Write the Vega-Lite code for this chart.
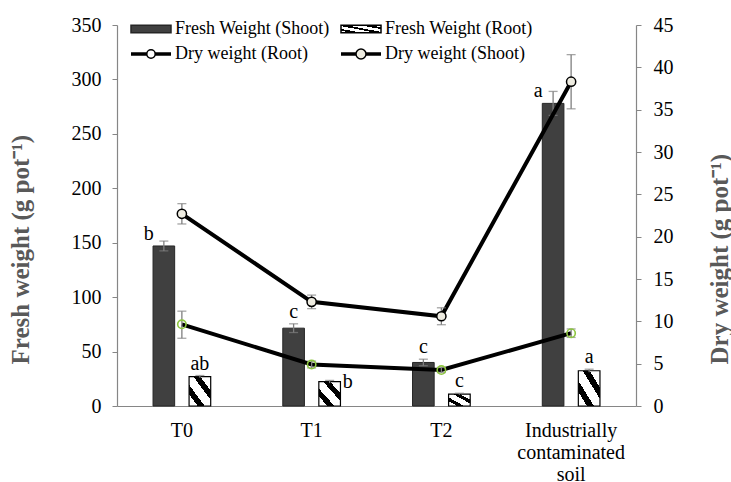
{
  "$schema": "https://vega.github.io/schema/vega-lite/v6.json",
  "width": 519,
  "height": 381,
  "autosize": "none",
  "padding": {"left": 117, "top": 25, "right": 95, "bottom": 76},
  "config": {
    "font": "Liberation Serif",
    "view": {"stroke": null},
    "text": {"font": "Liberation Serif"},
    "axis": {
      "labelFont": "Liberation Serif",
      "labelFontSize": 20,
      "labelColor": "black",
      "domainColor": "#868686",
      "domainWidth": 1.2,
      "tickColor": "#868686",
      "grid": false,
      "titleFont": "Liberation Serif",
      "titleFontSize": 25,
      "titleColor": "#595959",
      "titleFontWeight": "bold"
    },
    "legend": {
      "labelFont": "Liberation Serif",
      "labelFontSize": 18,
      "labelColor": "black"
    }
  },
  "data": {
    "values": [
      {"cat": "T0", "fs": 147, "fs_lo": 142.5, "fs_hi": 151.5, "fr": 27, "fr_lo": 26, "fr_hi": 28, "ds": 22.7, "ds_lo": 21.5, "ds_hi": 23.9, "dr": 9.65, "dr_lo": 8.0, "dr_hi": 11.2, "fs_let": "b", "fr_let": "ab"},
      {"cat": "T1", "fs": 71.5, "fs_lo": 67.5, "fs_hi": 75.5, "fr": 22.3, "fr_lo": 21, "fr_hi": 23.5, "ds": 12.3, "ds_lo": 11.5, "ds_hi": 13.1, "dr": 4.9, "dr_lo": 4.5, "dr_hi": 5.3, "fs_let": "c", "fr_let": "b"},
      {"cat": "T2", "fs": 40, "fs_lo": 37, "fs_hi": 43, "fr": 11, "fr_lo": 10.3, "fr_hi": 11.7, "ds": 10.6, "ds_lo": 9.6, "ds_hi": 11.6, "dr": 4.25, "dr_lo": 3.95, "dr_hi": 4.55, "fs_let": "c", "fr_let": "c"},
      {"cat": "Industrially contaminated soil", "fs": 278, "fs_lo": 267, "fs_hi": 289, "fr": 32.4, "fr_lo": 31, "fr_hi": 33.8, "ds": 38.3, "ds_lo": 35.1, "ds_hi": 41.5, "dr": 8.6, "dr_lo": 8.1, "dr_hi": 9.1, "fs_let": "a", "fr_let": "a"}
    ]
  },
  "encoding": {
    "x": {
      "field": "cat",
      "type": "nominal",
      "sort": ["T0", "T1", "T2", "Industrially contaminated soil"],
      "scale": {"paddingInner": 0, "paddingOuter": 0},
      "axis": {
        "title": null,
        "ticks": false,
        "labelAngle": 0,
        "labelFont": "Liberation Serif",
        "labelFontSize": 20,
        "labelPadding": 14,
        "labelLineHeight": 22,
        "labelBaseline": "top",
        "labelLimit": 300,
        "labelOverlap": false,
        "labelExpr": "datum.value == 'Industrially contaminated soil' ? ['Industrially', 'contaminated', 'soil'] : datum.value"
      }
    }
  },
  "layer": [
    {
      "layer": [
        {
          "mark": {"type": "bar", "fill": "#404040", "stroke": "#262626", "strokeWidth": 1},
          "encoding": {
            "xOffset": {"datum": "Shoot", "type": "nominal", "scale": {"domain": ["Shoot", "Root"], "paddingInner": 0.4, "paddingOuter": 1.3625}},
            "y": {
              "field": "fs",
              "type": "quantitative",
              "scale": {"domain": [0, 350], "nice": false},
              "title": "Fresh weight (g pot⁻¹)",
              "axis": {
                "title": "Fresh weight (g pot⁻¹)",
                "values": [0, 50, 100, 150, 200, 250, 300, 350],
                "tickSize": 5,
                "labelFont": "Liberation Serif",
                "labelPadding": 11,
                "titlePadding": 38,
                "titleAlign": "left",
                "titleY": 339
              }
            }
          }
        },
        {
          "mark": {
            "type": "bar",
            "stroke": "black",
            "strokeWidth": 1.2,
            "fill": {
              "gradient": "linear", "x1": 0, "y1": 1, "x2": 1, "y2": 0,
              "stops": [
                {"offset": 0, "color": "white"},
                {"offset": 0.2, "color": "white"},
                {"offset": 0.2, "color": "black"},
                {"offset": 0.36, "color": "black"},
                {"offset": 0.36, "color": "white"},
                {"offset": 0.6, "color": "white"},
                {"offset": 0.6, "color": "black"},
                {"offset": 0.76, "color": "black"},
                {"offset": 0.76, "color": "white"},
                {"offset": 1, "color": "white"}
              ]
            }
          },
          "encoding": {
            "xOffset": {"datum": "Root", "type": "nominal"},
            "y": {"field": "fr", "type": "quantitative", "title": "Fresh weight (g pot⁻¹)"}
          }
        },
        {
          "mark": {"type": "rule", "color": "#7f7f7f", "strokeWidth": 1.3},
          "encoding": {
            "xOffset": {"datum": "Shoot", "type": "nominal"},
            "y": {"field": "fs_lo", "type": "quantitative", "title": "Fresh weight (g pot⁻¹)"},
            "y2": {"field": "fs_hi"}
          }
        },
        {
          "mark": {"type": "tick", "color": "#7f7f7f", "size": 9, "thickness": 1.3, "orient": "horizontal"},
          "encoding": {
            "xOffset": {"datum": "Shoot", "type": "nominal"},
            "y": {"field": "fs_hi", "type": "quantitative", "title": "Fresh weight (g pot⁻¹)"}
          }
        },
        {
          "mark": {"type": "tick", "color": "#7f7f7f", "size": 9, "thickness": 1.3, "orient": "horizontal"},
          "encoding": {
            "xOffset": {"datum": "Shoot", "type": "nominal"},
            "y": {"field": "fs_lo", "type": "quantitative", "title": "Fresh weight (g pot⁻¹)"}
          }
        },
        {
          "mark": {"type": "rule", "color": "#7f7f7f", "strokeWidth": 1.3},
          "encoding": {
            "xOffset": {"datum": "Root", "type": "nominal"},
            "y": {"field": "fr_lo", "type": "quantitative", "title": "Fresh weight (g pot⁻¹)"},
            "y2": {"field": "fr_hi"}
          }
        },
        {
          "mark": {"type": "tick", "color": "#7f7f7f", "size": 9, "thickness": 1.3, "orient": "horizontal"},
          "encoding": {
            "xOffset": {"datum": "Root", "type": "nominal"},
            "y": {"field": "fr_hi", "type": "quantitative", "title": "Fresh weight (g pot⁻¹)"}
          }
        },
        {
          "transform": [{"filter": "datum.cat == 'T1' || datum.cat == 'T2'"}],
          "mark": {"type": "text", "font": "Liberation Serif", "fontSize": 20, "baseline": "bottom", "dy": -2, "color": "black"},
          "encoding": {
            "xOffset": {"datum": "Shoot", "type": "nominal"},
            "y": {"field": "fs_hi", "type": "quantitative", "title": "Fresh weight (g pot⁻¹)"},
            "text": {"field": "fs_let"}
          }
        },
        {
          "transform": [{"filter": "datum.cat == 'T0' || datum.cat == 'Industrially contaminated soil'"}],
          "mark": {"type": "text", "font": "Liberation Serif", "fontSize": 20, "baseline": "bottom", "dy": -2, "dx": -15, "color": "black"},
          "encoding": {
            "xOffset": {"datum": "Shoot", "type": "nominal"},
            "y": {"field": "fs", "type": "quantitative", "title": "Fresh weight (g pot⁻¹)"},
            "text": {"field": "fs_let"}
          }
        },
        {
          "transform": [{"filter": "datum.cat != 'T1'"}],
          "mark": {"type": "text", "font": "Liberation Serif", "fontSize": 20, "baseline": "bottom", "dy": -2, "color": "black"},
          "encoding": {
            "xOffset": {"datum": "Root", "type": "nominal"},
            "y": {"field": "fr_hi", "type": "quantitative", "title": "Fresh weight (g pot⁻¹)"},
            "text": {"field": "fr_let"}
          }
        },
        {
          "transform": [{"filter": "datum.cat == 'T1'"}],
          "mark": {"type": "text", "font": "Liberation Serif", "fontSize": 20, "baseline": "middle", "dx": 18, "color": "black"},
          "encoding": {
            "xOffset": {"datum": "Root", "type": "nominal"},
            "y": {"field": "fr", "type": "quantitative", "title": "Fresh weight (g pot⁻¹)"},
            "text": {"field": "fr_let"}
          }
        },
        {
          "data": {"values": [{"series": "Fresh Weight (Shoot)"}]},
          "transform": [{"filter": "false"}],
          "mark": {"type": "point", "filled": false, "opacity": 1},
          "encoding": {
            "x": {"value": 0},
            "y": {"value": 0},
            "fill": {
              "field": "series",
              "type": "nominal",
              "scale": {
                "domain": ["Fresh Weight (Shoot)", "Fresh Weight (Root)", "Dry weight (Root)", "Dry weight (Shoot)"],
                "range": [
                  "#404040",
                  {"expr": "{gradient: 'linear', x1: 0, y1: 1, x2: 1, y2: 0, stops: [{offset: 0, color: 'white'}, {offset: 0.14, color: 'white'}, {offset: 0.14, color: 'black'}, {offset: 0.26, color: 'black'}, {offset: 0.26, color: 'white'}, {offset: 0.44, color: 'white'}, {offset: 0.44, color: 'black'}, {offset: 0.56, color: 'black'}, {offset: 0.56, color: 'white'}, {offset: 0.74, color: 'white'}, {offset: 0.74, color: 'black'}, {offset: 0.86, color: 'black'}, {offset: 0.86, color: 'white'}, {offset: 1, color: 'white'}]}"},
                  "transparent",
                  "#eeece1"
                ]
              },
              "legend": {
                "title": null,
                "orient": "none",
                "legendX": 23,
                "legendY": -7,
                "direction": "horizontal",
                "columns": 2,
                "columnPadding": 8,
                "rowPadding": 5,
                "symbolSize": 400,
                "symbolStrokeWidth": 1.5,
                "labelOffset": 13,
                "symbolOpacity": 1
              }
            },
            "shape": {
              "field": "series",
              "type": "nominal",
              "scale": {
                "domain": ["Fresh Weight (Shoot)", "Fresh Weight (Root)", "Dry weight (Root)", "Dry weight (Shoot)"],
                "range": [
                  "M-2,-0.38H2V0.38H-2Z",
                  "M-2,-0.38H2V0.38H-2Z",
                  "M-2,-0.1H-0.42M-2,0H-0.42M-2,0.1H-0.42M0.42,-0.1H2M0.42,0H2M0.42,0.1H2M0.42,0A0.42,0.42,0,1,1,-0.42,0A0.42,0.42,0,1,1,0.42,0",
                  "M-2,-0.1H-0.5M-2,0H-0.5M-2,0.1H-0.5M0.5,-0.1H2M0.5,0H2M0.5,0.1H2M0.5,0A0.5,0.5,0,1,1,-0.5,0A0.5,0.5,0,1,1,0.5,0"
                ]
              }
            },
            "stroke": {
              "field": "series",
              "type": "nominal",
              "scale": {
                "domain": ["Fresh Weight (Shoot)", "Fresh Weight (Root)", "Dry weight (Root)", "Dry weight (Shoot)"],
                "range": ["#262626", "black", "black", "black"]
              }
            }
          }
        }
      ]
    },
    {
      "layer": [
        {
          "mark": {"type": "line", "color": "black", "strokeWidth": 4},
          "encoding": {
            "y": {
              "field": "ds",
              "type": "quantitative",
              "scale": {"domain": [0, 45], "nice": false},
              "title": "Dry weight (g pot⁻¹)",
              "axis": {
                "orient": "right",
                "title": "Dry weight (g pot⁻¹)",
                "values": [0, 5, 10, 15, 20, 25, 30, 35, 40, 45],
                "tickSize": 5,
                "labelFont": "Liberation Serif",
                "labelPadding": 12,
                "titlePadding": 34,
                "titleAngle": 270,
                "titleBaseline": "top",
                "titleAlign": "left",
                "titleY": 339
              }
            }
          }
        },
        {
          "mark": {"type": "line", "color": "black", "strokeWidth": 4},
          "encoding": {
            "y": {"field": "dr", "type": "quantitative", "title": "Dry weight (g pot⁻¹)"}
          }
        },
        {
          "mark": {"type": "rule", "color": "#7f7f7f", "strokeWidth": 1.3},
          "encoding": {
            "y": {"field": "ds_lo", "type": "quantitative", "title": "Dry weight (g pot⁻¹)"},
            "y2": {"field": "ds_hi"}
          }
        },
        {
          "mark": {"type": "tick", "color": "#7f7f7f", "size": 9, "thickness": 1.3, "orient": "horizontal"},
          "encoding": {
            "y": {"field": "ds_hi", "type": "quantitative", "title": "Dry weight (g pot⁻¹)"}
          }
        },
        {
          "mark": {"type": "tick", "color": "#7f7f7f", "size": 9, "thickness": 1.3, "orient": "horizontal"},
          "encoding": {
            "y": {"field": "ds_lo", "type": "quantitative", "title": "Dry weight (g pot⁻¹)"}
          }
        },
        {
          "mark": {"type": "rule", "color": "#7f7f7f", "strokeWidth": 1.3},
          "encoding": {
            "y": {"field": "dr_lo", "type": "quantitative", "title": "Dry weight (g pot⁻¹)"},
            "y2": {"field": "dr_hi"}
          }
        },
        {
          "mark": {"type": "tick", "color": "#7f7f7f", "size": 9, "thickness": 1.3, "orient": "horizontal"},
          "encoding": {
            "y": {"field": "dr_hi", "type": "quantitative", "title": "Dry weight (g pot⁻¹)"}
          }
        },
        {
          "mark": {"type": "tick", "color": "#7f7f7f", "size": 9, "thickness": 1.3, "orient": "horizontal"},
          "encoding": {
            "y": {"field": "dr_lo", "type": "quantitative", "title": "Dry weight (g pot⁻¹)"}
          }
        },
        {
          "mark": {"type": "point", "shape": "circle", "filled": true, "fill": "#eeece1", "stroke": "black", "strokeWidth": 1.5, "size": 85, "opacity": 1},
          "encoding": {
            "y": {"field": "ds", "type": "quantitative", "title": "Dry weight (g pot⁻¹)"}
          }
        },
        {
          "mark": {"type": "point", "shape": "circle", "filled": false, "fill": "transparent", "stroke": "#8dc63f", "strokeWidth": 1.6, "size": 70, "opacity": 1},
          "encoding": {
            "y": {"field": "dr", "type": "quantitative", "title": "Dry weight (g pot⁻¹)"}
          }
        }
      ]
    }
  ],
  "resolve": {"scale": {"y": "independent"}}
}
